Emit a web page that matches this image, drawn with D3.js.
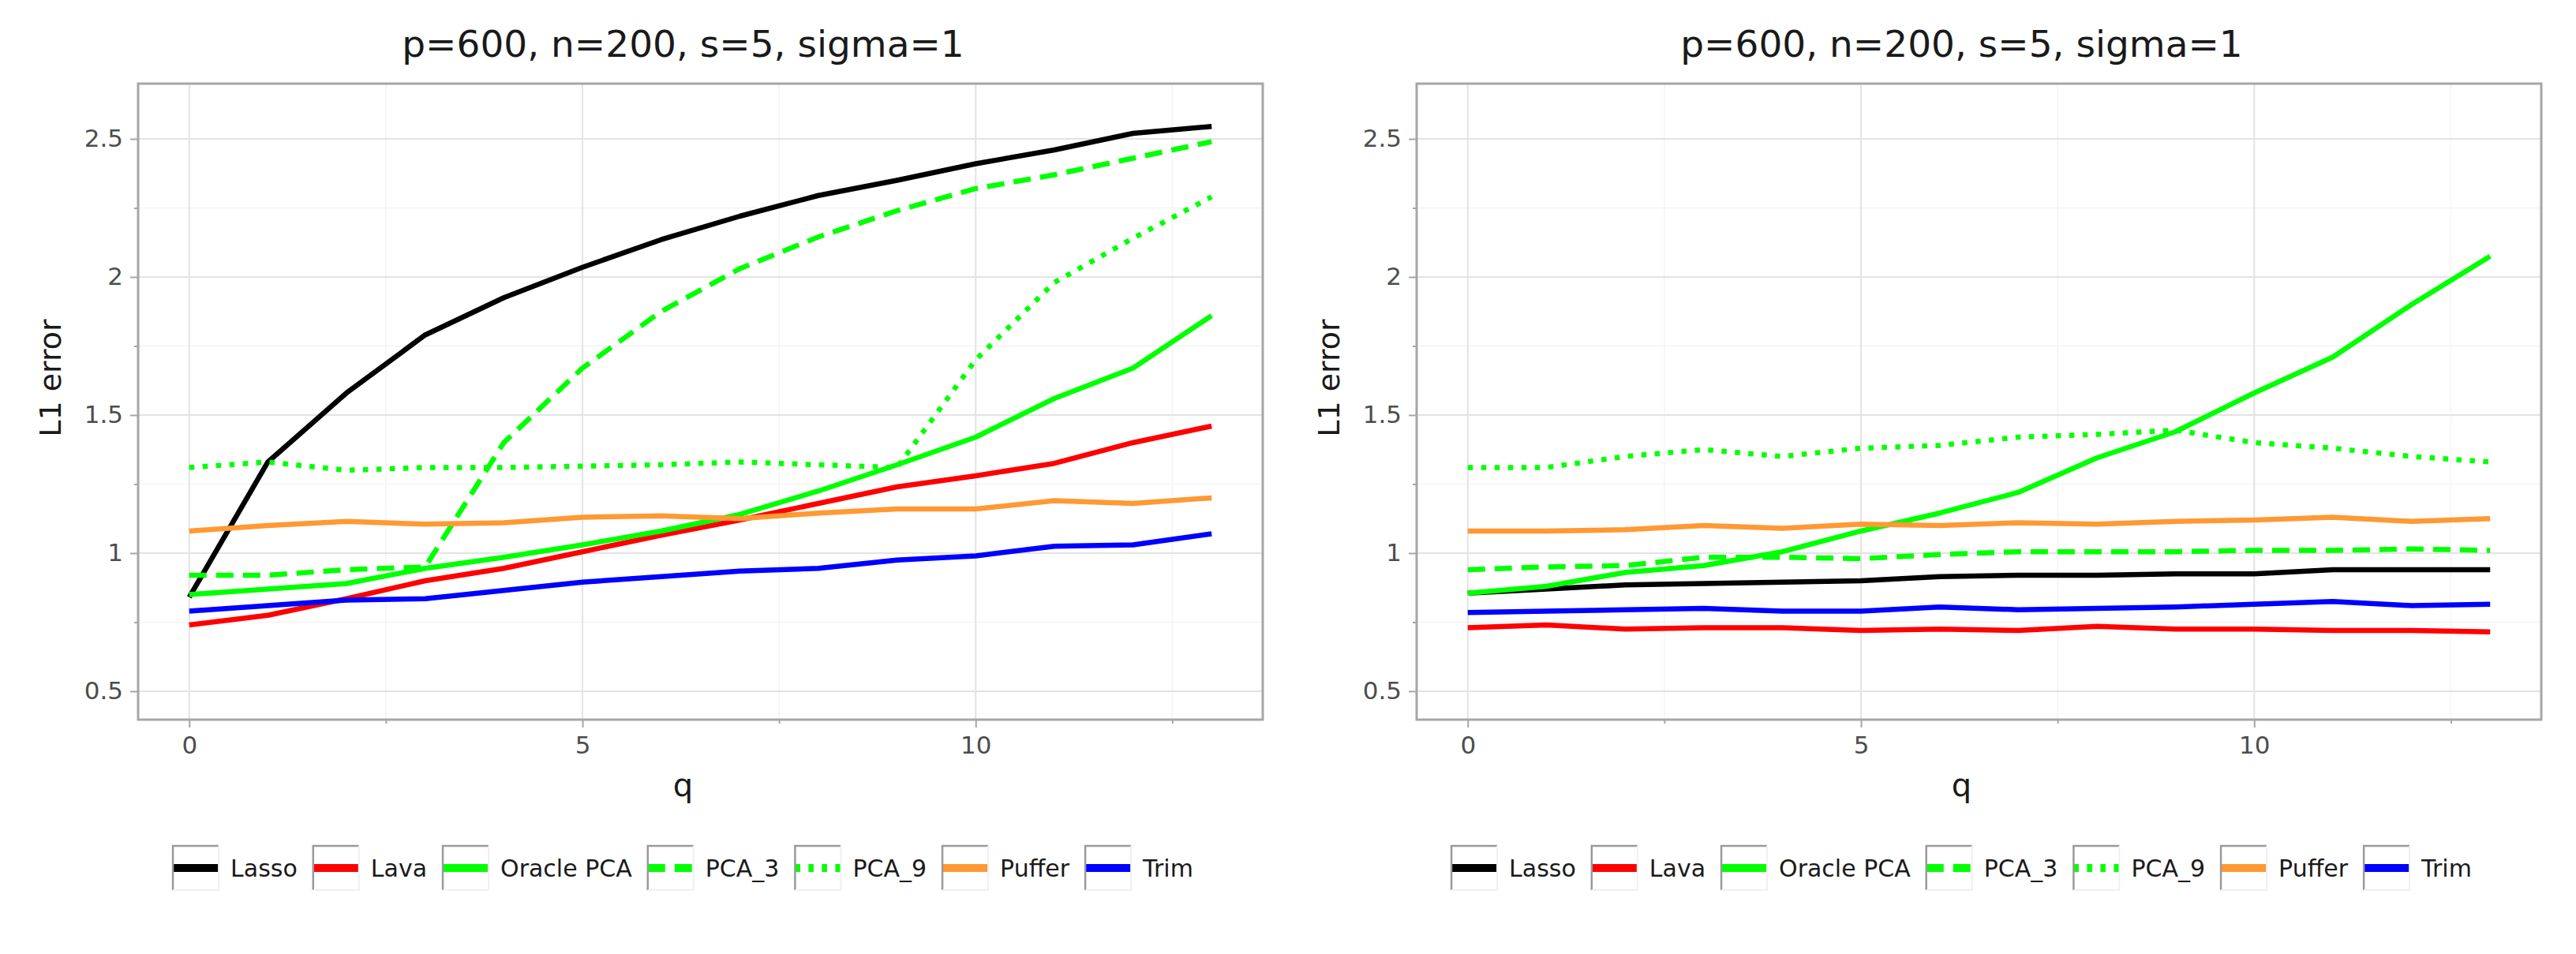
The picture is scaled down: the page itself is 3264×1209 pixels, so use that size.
<!DOCTYPE html>
<meta charset="utf-8">
<script src="https://d3js.org/d3.v7.min.js"></script>
<style>
  body { margin: 0; background: #fff; }
  text { font-family: "DejaVu Sans", sans-serif; }
</style>
<body>
<div id="chart"></div>
<script>
// x values shared by both panels
var q = [0, 1, 2, 3, 4, 5, 6, 7, 8, 9, 10, 11, 12, 13];

var methods = ["Lasso", "Lava", "Oracle PCA", "PCA_3", "PCA_9", "Puffer", "Trim"];
var colors = ["#000000", "#ff0000", "#00ff00", "#00ff00", "#00ff00", "#ff9933", "#0000ff"];
var dashes = [null, null, null, "22,12", "6.5,10.5", null, null];

var title = "p=600, n=200, s=5, sigma=1";
var yTicks = [0.5, 1, 1.5, 2, 2.5];
var yMinor = [0.75, 1.25, 1.75, 2.25];
var xTicks = [0, 5, 10];
var xMinor = [2.5, 7.5, 12.5];

// left panel
var leftLasso  = [0.84, 1.33, 1.58, 1.79, 1.925, 2.035, 2.135, 2.22, 2.295, 2.35, 2.41, 2.46, 2.52, 2.545];
var leftLava   = [0.74, 0.775, 0.835, 0.90, 0.945, 1.005, 1.065, 1.12, 1.18, 1.24, 1.28, 1.325, 1.40, 1.46];
var leftOracle = [0.85, 0.87, 0.89, 0.945, 0.985, 1.03, 1.08, 1.14, 1.225, 1.32, 1.42, 1.56, 1.67, 1.86];
var leftPCA3   = [0.92, 0.92, 0.94, 0.95, 1.40, 1.67, 1.875, 2.03, 2.145, 2.24, 2.32, 2.37, 2.43, 2.49];
var leftPCA9   = [1.31, 1.33, 1.30, 1.31, 1.31, 1.315, 1.32, 1.33, 1.32, 1.31, 1.70, 1.98, 2.14, 2.29];
var leftPuffer = [1.08, 1.10, 1.115, 1.105, 1.11, 1.13, 1.135, 1.125, 1.145, 1.16, 1.16, 1.19, 1.18, 1.20];
var leftTrim   = [0.79, 0.81, 0.83, 0.835, 0.865, 0.895, 0.915, 0.935, 0.945, 0.975, 0.99, 1.025, 1.03, 1.07];

// right panel
var rightLasso  = [0.855, 0.87, 0.885, 0.89, 0.895, 0.90, 0.915, 0.92, 0.92, 0.925, 0.925, 0.94, 0.94, 0.94];
var rightLava   = [0.73, 0.74, 0.725, 0.73, 0.73, 0.72, 0.725, 0.72, 0.735, 0.725, 0.725, 0.72, 0.72, 0.715];
var rightOracle = [0.855, 0.88, 0.93, 0.955, 1.005, 1.08, 1.145, 1.22, 1.345, 1.44, 1.58, 1.71, 1.90, 2.075];
var rightPCA3   = [0.94, 0.95, 0.955, 0.985, 0.985, 0.98, 0.995, 1.005, 1.005, 1.005, 1.01, 1.01, 1.015, 1.01];
var rightPCA9   = [1.31, 1.31, 1.35, 1.375, 1.35, 1.38, 1.39, 1.42, 1.43, 1.445, 1.40, 1.38, 1.35, 1.33];
var rightPuffer = [1.08, 1.08, 1.085, 1.10, 1.09, 1.105, 1.10, 1.11, 1.105, 1.115, 1.12, 1.13, 1.115, 1.125];
var rightTrim   = [0.785, 0.79, 0.795, 0.80, 0.79, 0.79, 0.805, 0.795, 0.80, 0.805, 0.815, 0.825, 0.81, 0.815];

var leftSeries  = [leftLasso, leftLava, leftOracle, leftPCA3, leftPCA9, leftPuffer, leftTrim];
var rightSeries = [rightLasso, rightLava, rightOracle, rightPCA3, rightPCA9, rightPuffer, rightTrim];

var W = 3264, H = 1209;
var boxTop = 106, boxW = 1425, boxH = 806;

var svg = d3.select("#chart").append("svg")
  .attr("width", W)
  .attr("height", H);

function drawPanel(left, series) {
  var g = svg.append("g")
    .attr("transform", "translate(" + left + "," + boxTop + ")");

  var x = d3.scaleLinear().domain([-0.65, 13.65]).range([0, boxW]);
  var y = d3.scaleLinear().domain([0.397, 2.70]).range([boxH, 0]);

  // minor grid
  g.selectAll(".xminor").data(xMinor).enter().append("line")
    .attr("x1", function(d) { return x(d); }).attr("x2", function(d) { return x(d); })
    .attr("y1", 0).attr("y2", boxH)
    .attr("stroke", "#f4f4f4").attr("stroke-width", 1.5);
  g.selectAll(".yminor").data(yMinor).enter().append("line")
    .attr("y1", function(d) { return y(d); }).attr("y2", function(d) { return y(d); })
    .attr("x1", 0).attr("x2", boxW)
    .attr("stroke", "#f4f4f4").attr("stroke-width", 1.5);

  // major grid
  g.selectAll(".xmajor").data(xTicks).enter().append("line")
    .attr("x1", function(d) { return x(d); }).attr("x2", function(d) { return x(d); })
    .attr("y1", 0).attr("y2", boxH)
    .attr("stroke", "#e3e3e3").attr("stroke-width", 2);
  g.selectAll(".ymajor").data(yTicks).enter().append("line")
    .attr("y1", function(d) { return y(d); }).attr("y2", function(d) { return y(d); })
    .attr("x1", 0).attr("x2", boxW)
    .attr("stroke", "#e3e3e3").attr("stroke-width", 2);

  var line = d3.line()
    .x(function(d, i) { return x(q[i]); })
    .y(function(d) { return y(d); });

  series.forEach(function(vals, k) {
    g.append("path")
      .datum(vals)
      .attr("fill", "none")
      .attr("stroke", colors[k])
      .attr("stroke-width", 6.5)
      .attr("stroke-linejoin", "round")
      .attr("stroke-dasharray", dashes[k])
      .attr("d", line);
  });

  // border
  g.append("rect")
    .attr("width", boxW).attr("height", boxH)
    .attr("fill", "none")
    .attr("stroke", "#a6a6a6").attr("stroke-width", 3);

  // axes
  var xAxis = g.append("g")
    .attr("transform", "translate(0," + boxH + ")")
    .call(d3.axisBottom(x).tickValues(xTicks).tickSize(10).tickPadding(11).tickFormat(d3.format("d")));
  var xAxisMinor = g.append("g")
    .attr("transform", "translate(0," + boxH + ")")
    .call(d3.axisBottom(x).tickValues(xMinor).tickSize(5).tickFormat(""));
  var yAxis = g.append("g")
    .call(d3.axisLeft(y).tickValues(yTicks).tickSize(10).tickPadding(9).tickFormat(d3.format("~g")));
  var yAxisMinor = g.append("g")
    .call(d3.axisLeft(y).tickValues(yMinor).tickSize(5).tickFormat(""));

  [xAxis, xAxisMinor, yAxis, yAxisMinor].forEach(function(a) {
    a.select(".domain").remove();
    a.selectAll(".tick line").attr("stroke", "#a6a6a6").attr("stroke-width", 2);
    a.selectAll(".tick text")
      .attr("fill", "#4d4d4d")
      .style("font-size", "31px")
      .style("font-family", "DejaVu Sans");
  });

  var cx = boxW / 2 - 22;

  g.append("text")
    .attr("x", cx)
    .attr("y", 72 - boxTop)
    .attr("text-anchor", "middle")
    .attr("fill", "#1a1a1a")
    .style("font-size", "47px")
    .text(title);

  g.append("text")
    .attr("x", cx)
    .attr("y", 1009 - boxTop)
    .attr("text-anchor", "middle")
    .attr("fill", "#1a1a1a")
    .style("font-size", "40px")
    .text("q");

  g.append("text")
    .attr("transform", "translate(-98," + (479 - boxTop) + ") rotate(-90)")
    .attr("text-anchor", "middle")
    .attr("fill", "#1a1a1a")
    .style("font-size", "38px")
    .text("L1 error");

  // legend
  var keyW = 58, keyH = 56, keyTop = 1072 - boxTop;
  var leg = g.append("g");
  var items = methods.map(function(m, k) {
    var it = leg.append("g");
    it.append("line")
      .attr("x1", 0).attr("x2", keyW)
      .attr("y1", keyH / 2).attr("y2", keyH / 2)
      .attr("stroke", colors[k])
      .attr("stroke-width", 10)
      .attr("stroke-dasharray", dashes[k]);
    it.append("path")
      .attr("d", "M0," + keyH + "V0H" + keyW)
      .attr("fill", "none").attr("stroke", "#9a9a9a").attr("stroke-width", 2.5);
    it.append("path")
      .attr("d", "M" + keyW + ",0V" + keyH + "H0")
      .attr("fill", "none").attr("stroke", "#f0f0f0").attr("stroke-width", 2);
    var t = it.append("text")
      .attr("x", keyW + 15)
      .attr("y", keyH / 2 + 11)
      .attr("fill", "#1a1a1a")
      .style("font-size", "30px")
      .text(m);
    return { g: it, w: keyW + 15 + t.node().getComputedTextLength() };
  });
  var total = d3.sum(items, function(d) { return d.w; }) + 20 * (items.length - 1);
  var pos = cx - total / 2;
  items.forEach(function(d) {
    d.g.attr("transform", "translate(" + pos + "," + keyTop + ")");
    pos += d.w + 20;
  });
}

drawPanel(175, leftSeries);
drawPanel(1795, rightSeries);
</script>
</body>
